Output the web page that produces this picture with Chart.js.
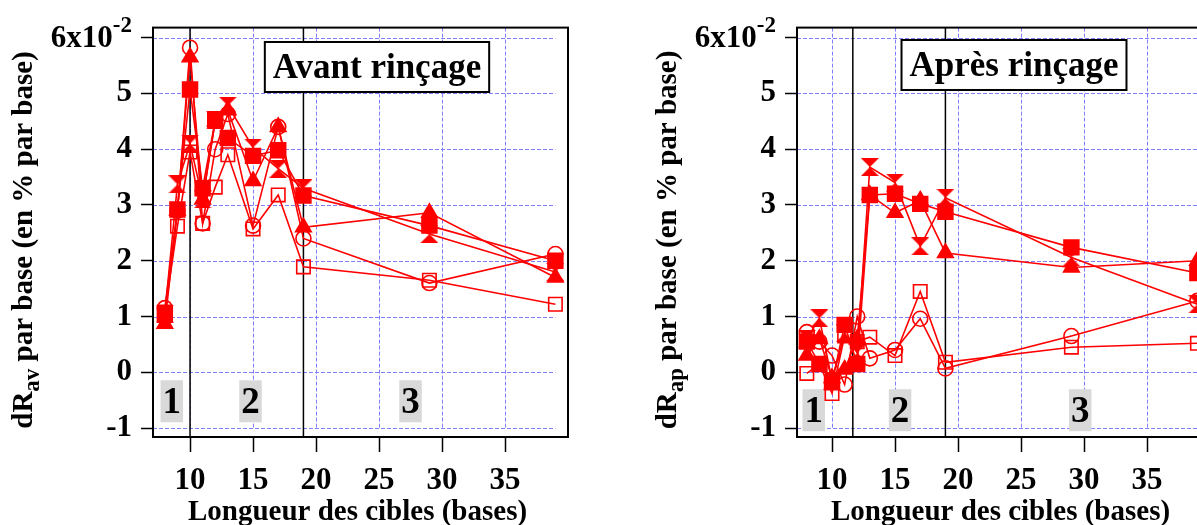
<!DOCTYPE html>
<html><head><meta charset="utf-8">
<script src="https://cdn.jsdelivr.net/npm/chart.js@4.4.0/dist/chart.umd.min.js"></script>
<style>
html,body{margin:0;padding:0;background:#fff;overflow:hidden;width:1197px;height:525px;position:relative;}
#c1{position:absolute;left:0;top:0;}
#c2{position:absolute;left:640px;top:0;}
</style></head><body>
<canvas id="c1" width="600" height="525"></canvas>
<canvas id="c2" width="600" height="525"></canvas>
<script>
// ---- data ----
const lengths = [8, 9, 10, 11, 12, 13, 15, 17, 19, 29, 39];
const yTickValues = [-1, 0, 1, 2, 3, 4, 5, 6];
const xTickValues = [10, 15, 20, 25, 30, 35];
const xGridValues = [10, 15, 20, 25, 30, 35];

// Avant rinçage
const avCircle    = [1.15, 2.90, 5.82, 2.67, 4.00, 4.63, 2.63, 4.40, 2.40, 1.60, 2.12];
const avOpenSq    = [1.08, 2.62, 3.95, 2.67, 3.32, 3.90, 2.57, 3.18, 1.89, 1.65, 1.22];
const avFilledSq  = [1.05, 2.92, 5.07, 3.30, 4.52, 4.20, 3.88, 3.98, 3.17, 2.63, 2.00];
const avTriangle  = [0.87, 2.90, 5.65, 3.10, 4.50, 4.70, 3.43, 4.40, 2.60, 2.86, 1.70];
const avHourglass = [1.05, 3.37, 4.10, 3.10, 4.52, 4.78, 4.03, 3.65, 3.30, 2.48, 1.80];

// Après rinçage
const apCircle    = [0.72, 0.55, 0.30, -0.22, 1.00, 0.25, 0.40, 0.96, 0.07, 0.65, 1.28];
const apOpenSq    = [-0.02, 0.15, -0.38, 0.65, 0.55, 0.63, 0.30, 1.45, 0.18, 0.45, 0.52];
const apFilledSq  = [0.55, 0.15, -0.18, 0.85, 0.15, 3.18, 3.20, 3.02, 2.88, 2.24, 1.78];
const apTriangle  = [0.30, 0.60, -0.10, 0.05, 0.60, 3.18, 2.86, 3.08, 2.14, 1.88, 2.00];
const apHourglass = [0.60, 0.97, -0.15, 0.70, 0.35, 3.68, 3.40, 2.26, 3.13, 2.06, 1.22];

const avSeparators = [10, 19];
const apSeparators = [11.65, 19];
const avRegions = [{t:'1', x:8.55, y:-0.52}, {t:'2', x:14.8, y:-0.52}, {t:'3', x:27.5, y:-0.52}];
const apRegions = [{t:'1', x:8.55, y:-0.68}, {t:'2', x:15.4, y:-0.68}, {t:'3', x:29.7, y:-0.68}];

// ---- styling ----
const RED = '#ff0000';
const FONT = '"Liberation Serif", "Times New Roman", serif';

function hourglassCanvas(size) {
  const c = document.createElement('canvas');
  c.width = size; c.height = size;
  const g = c.getContext('2d');
  g.fillStyle = RED;
  g.beginPath();
  g.moveTo(0, 0); g.lineTo(size, 0); g.lineTo(size / 2, size / 2);
  g.lineTo(size, size); g.lineTo(0, size); g.lineTo(size / 2, size / 2);
  g.closePath();
  g.fill();
  return c;
}
const HOURGLASS = hourglassCanvas(18);

function seriesList(circle, openSq, filledSq, tri, hour) {
  return [
    {values: circle,   style: 'circle',   r: 7.5, fill: false},
    {values: openSq,   style: 'rect',     r: 9.5, fill: false},
    {values: filledSq, style: 'rect',     r: 10.5, fill: true},
    {values: tri,      style: 'triangle', r: 9,   fill: true},
    {values: hour,     style: HOURGLASS,  r: 8,   fill: true}
  ];
}

function decorPlugin(cfg) {
  return {
    id: 'decor' + cfg.id,
    beforeDatasetsDraw(chart) {
      const {ctx, chartArea: a, scales: {x, y}} = chart;
      ctx.save();
      // dashed blue grid
      ctx.strokeStyle = '#7f7fff';
      ctx.lineWidth = 1;
      ctx.setLineDash([4, 2]);
      const xEnd = x.getPixelForValue(39);
      const yEnd = y.getPixelForValue(-1);
      yTickValues.forEach(v => {
        const py = Math.round(y.getPixelForValue(v)) + 0.5;
        ctx.beginPath(); ctx.moveTo(a.left, py); ctx.lineTo(xEnd, py); ctx.stroke();
      });
      xGridValues.forEach(v => {
        const px = Math.round(x.getPixelForValue(v)) + 0.5;
        ctx.beginPath(); ctx.moveTo(px, a.top); ctx.lineTo(px, yEnd); ctx.stroke();
      });
      ctx.setLineDash([]);
      // separators
      ctx.strokeStyle = '#000';
      ctx.lineWidth = 1.5;
      cfg.separators.forEach(v => {
        const px = x.getPixelForValue(v);
        ctx.beginPath(); ctx.moveTo(px, a.top); ctx.lineTo(px, a.bottom); ctx.stroke();
      });
      // region labels
      ctx.font = 'bold 37px ' + FONT;
      ctx.textAlign = 'center';
      ctx.textBaseline = 'middle';
      cfg.regions.forEach(r => {
        const px = x.getPixelForValue(r.x), py = y.getPixelForValue(r.y);
        const w = ctx.measureText(r.t).width + 4;
        ctx.fillStyle = '#d9d9d9';
        ctx.fillRect(px - w / 2, py - 21, w, 42);
        ctx.fillStyle = '#000';
        ctx.fillText(r.t, px, py + 2);
      });
      ctx.restore();
    },
    afterDatasetsDraw(chart) {
      const {ctx, chartArea: a, scales: {y}} = chart;
      ctx.save();
      // frame
      ctx.strokeStyle = '#000';
      ctx.lineWidth = 2;
      ctx.strokeRect(a.left, a.top, a.right - a.left, a.bottom - a.top);
      // title box
      ctx.font = 'bold 35px ' + FONT;
      const tw = ctx.measureText(cfg.title).width;
      const bw = tw + 16, bh = 50;
      const bx = cfg.boxCx - bw / 2, by = cfg.boxCy - bh / 2;
      ctx.fillStyle = '#fff';
      ctx.fillRect(bx, by, bw, bh);
      ctx.lineWidth = 2;
      ctx.strokeRect(bx, by, bw, bh);
      ctx.fillStyle = '#000';
      ctx.textAlign = 'center';
      ctx.textBaseline = 'middle';
      ctx.fillText(cfg.title, cfg.boxCx, cfg.boxCy + 2);
      // top tick label 6x10^-2
      const y6 = y.getPixelForValue(6);
      const rightEdge = a.left - 21;
      ctx.textAlign = 'right';
      ctx.font = 'bold 23px ' + FONT;
      const supW = ctx.measureText('-2').width;
      ctx.fillText('-2', rightEdge, y6 - 12);
      ctx.font = 'bold 31px ' + FONT;
      ctx.fillText('6x10', rightEdge - supW, y6 + 1);
      // x title
      ctx.font = 'bold 29px ' + FONT;
      ctx.textAlign = 'center';
      ctx.fillText('Longueur des cibles (bases)', (a.left + a.right) / 2 - 3, 513);
      // y title (rotated, with subscript)
      ctx.translate(a.left - 131, 240);
      ctx.rotate(-Math.PI / 2);
      const mainFont = 'bold 29px ' + FONT, subFont = 'bold 23px ' + FONT;
      ctx.font = mainFont; const w1 = ctx.measureText('dR').width;
      ctx.font = subFont; const w2 = ctx.measureText(cfg.sub).width;
      ctx.font = mainFont; const rest = ' par base (en % par base)'; const w3 = ctx.measureText(rest).width;
      let sx = -(w1 + w2 + w3) / 2;
      ctx.textAlign = 'left';
      ctx.textBaseline = 'alphabetic';
      ctx.fillText('dR', sx, 10); sx += w1;
      ctx.font = subFont; ctx.fillText(cfg.sub, sx, 17); sx += w2;
      ctx.font = mainFont; ctx.fillText(rest, sx, 10);
      ctx.restore();
    }
  };
}

function makeChart(id, series, cfg) {
  const tickFont = {family: FONT, size: 31, weight: 'bold'};
  new Chart(document.getElementById(id), {
    type: 'line',
    data: {
      datasets: series.map(s => ({
        data: lengths.map((xv, i) => ({x: xv, y: s.values[i]})),
        borderColor: RED,
        borderWidth: 1.6,
        tension: 0,
        fill: false,
        pointStyle: s.style,
        pointRadius: s.r,
        pointBorderWidth: 1.6,
        pointBorderColor: RED,
        pointBackgroundColor: s.fill ? RED : 'rgba(0,0,0,0)'
      }))
    },
    options: {
      responsive: false,
      animation: false,
      devicePixelRatio: 1,
      layout: {padding: {top: 27, right: cfg.padRight, left: 0, bottom: 0}},
      plugins: {legend: {display: false}, tooltip: {enabled: false}},
      scales: {
        x: {
          type: 'linear', min: cfg.xMin, max: 40,
          afterBuildTicks: s => { s.ticks = xTickValues.map(v => ({value: v})); },
          afterFit: s => { s.height = 88; },
          border: {display: false},
          grid: {drawOnChartArea: false, drawTicks: true, tickLength: 15, tickColor: '#000', tickWidth: 1.5, color: '#000'},
          ticks: {font: tickFont, color: '#000', padding: 10, maxRotation: 0, autoSkip: false}
        },
        y: {
          type: 'linear', min: -1.16, max: 6.18,
          afterBuildTicks: s => { s.ticks = yTickValues.map(v => ({value: v})); },
          afterFit: s => { s.width = cfg.yWidth; },
          border: {display: false},
          grid: {drawOnChartArea: false, drawTicks: true, tickLength: 12, tickColor: '#000', tickWidth: 1.5, color: '#000'},
          ticks: {font: tickFont, color: '#000', padding: 9, autoSkip: false,
                  callback: v => (v === 6 ? '' : String(v))}
        }
      }
    },
    plugins: [decorPlugin(cfg)]
  });
}

makeChart('c1', seriesList(avCircle, avOpenSq, avFilledSq, avTriangle, avHourglass), {
  id: 1, xMin: 7.06, padRight: 32, yWidth: 153, title: 'Avant rinçage', sub: 'av',
  boxCx: 377, boxCy: 67, separators: avSeparators, regions: avRegions
});
makeChart('c2', seriesList(apCircle, apOpenSq, apFilledSq, apTriangle, apHourglass), {
  id: 2, xMin: 7.22, padRight: 30, yWidth: 157, title: 'Après rinçage', sub: 'ap',
  boxCx: 374, boxCy: 65, separators: apSeparators, regions: apRegions
});
</script></body></html>
